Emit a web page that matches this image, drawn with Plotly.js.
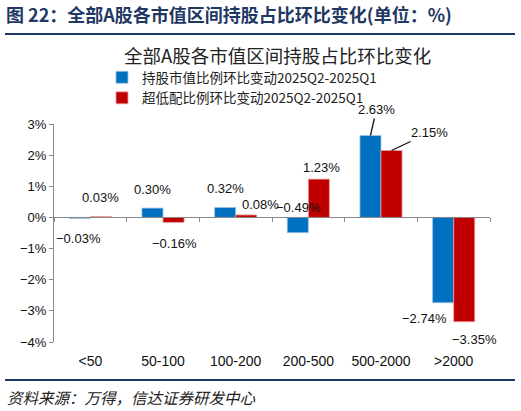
<!DOCTYPE html>
<html>
<head>
<meta charset="utf-8">
<script src="https://cdn.plot.ly/plotly-3.0.1.min.js"></script>
<style>
  html, body { margin: 0; padding: 0; background: #fff; }
  #chart { width: 521px; height: 411px; }
</style>
</head>
<body>
<div id="chart"></div>
<script>
// data
var categories = ['<50', '50-100', '100-200', '200-500', '500-2000', '>2000'];
var holdChange = [-0.03, 0.30, 0.32, -0.49, 2.63, -2.74];
var underChange = [0.03, -0.16, 0.08, 1.23, 2.15, -3.35];
var seriesNames = ['持股市值比例环比变动2025Q2-2025Q1', '超低配比例环比变动2025Q2-2025Q1'];
var yTicks = [-4, -3, -2, -1, 0, 1, 2, 3];

var headerText = '图 22：全部A股各市值区间持股占比环比变化(单位：%)';
var chartTitle = '全部A股各市值区间持股占比环比变化';
var sourceText = '资料来源：万得，信达证券研发中心';

// label nudges in px (dx right, dy up), just to follow the hand placed labels
var blueNudge = [[-1, -20], [0, 19], [0, 19], [1, 25], null, [-19, -16]];
var redNudge = [[0, 19], [1, -21], [14, 10], [3, 12], null, [10, -18]];
var blueArrow = [null, null, null, null, [6, -26], null];
var redArrow = [null, null, null, null, [38, -18], null];

var BLUE = '#0070C0', RED = '#C00000', NAVY = '#1F3864';
var W = 521, H = 411;
var margin = {l: 54, r: 31, t: 124, b: 69, autoexpand: false};
var bargap = 0.42;
var plotW = W - margin.l - margin.r;
var plotH = H - margin.t - margin.b;
var barShift = plotW / categories.length * (1 - bargap) / 4;

function py(pix) { return (H - margin.b - pix) / plotH; }
function px(pix) { return (pix - margin.l) / plotW; }
function fmt(v) { return (v < 0 ? '\u2212' : '') + Math.abs(v).toFixed(2) + '%'; }
function tickFmt(v) { return (v < 0 ? '\u2212' : '') + Math.abs(v) + '%'; }

var labelFont = {family: 'Liberation Sans, Arial, sans-serif', size: 13, color: '#111'};
var annotations = [];
function addLabels(vals, nudge, arrows, side) {
  vals.forEach(function (v, i) {
    var a = {x: categories[i], y: v, xref: 'x', yref: 'y', text: fmt(v), font: labelFont};
    if (arrows[i]) {
      a.showarrow = true; a.arrowhead = 0; a.arrowwidth = 1.3; a.arrowcolor = '#111';
      a.xshift = side * barShift; a.ax = arrows[i][0]; a.ay = arrows[i][1];
    } else {
      a.showarrow = false;
      a.xshift = side * barShift + nudge[i][0]; a.yshift = nudge[i][1];
    }
    annotations.push(a);
  });
}
addLabels(holdChange, blueNudge, blueArrow, -1);
addLabels(underChange, redNudge, redArrow, 1);

annotations.push({
  text: chartTitle, xref: 'paper', yref: 'paper', x: px(277), y: py(55),
  xanchor: 'center', yanchor: 'middle', showarrow: false,
  font: {family: 'Noto Sans CJK SC', size: 18.5, color: '#222'}
});
annotations.push({
  text: sourceText, xref: 'paper', yref: 'paper', x: px(5), y: py(397),
  xanchor: 'left', yanchor: 'middle', showarrow: false,
  font: {family: 'Noto Sans CJK SC', size: 15.5, color: '#222', style: 'italic'}
});

var shapes = [
  {type: 'line', xref: 'paper', yref: 'paper', x0: px(5), x1: px(515), y0: py(34), y1: py(34),
   line: {color: NAVY, width: 2}},
  {type: 'line', xref: 'paper', yref: 'paper', x0: px(5), x1: px(515), y0: py(380), y1: py(380),
   line: {color: NAVY, width: 2}}
];

var data = [
  {type: 'bar', x: categories, y: holdChange, name: seriesNames[0],
   marker: {color: BLUE, line: {color: '#9DC3E6', width: 0.8}}, hoverinfo: 'skip'},
  {type: 'bar', x: categories, y: underChange, name: seriesNames[1],
   marker: {color: RED, line: {color: '#F4A0A0', width: 0.8}}, hoverinfo: 'skip'}
];

var layout = {
  width: W, height: H, margin: margin,
  paper_bgcolor: '#fff', plot_bgcolor: '#fff',
  barmode: 'group', bargap: bargap, bargroupgap: 0,
  title: {
    text: '<b>' + headerText + '</b>', xref: 'container', yref: 'container',
    x: 6 / W, y: 1 - 16 / H, xanchor: 'left', yanchor: 'middle',
    font: {family: 'Noto Sans CJK SC', size: 18, color: NAVY}
  },
  showlegend: true,
  legend: {
    xref: 'paper', yref: 'paper', x: px(102), y: py(62),
    xanchor: 'left', yanchor: 'top', orientation: 'v', tracegroupgap: 0,
    itemwidth: 30, bgcolor: 'rgba(0,0,0,0)',
    font: {family: 'Noto Sans CJK SC', size: 13.5, color: '#222'}
  },
  xaxis: {
    type: 'category', categoryarray: categories, range: [-0.5, categories.length - 0.5],
    anchor: 'free', position: 4 / 7, automargin: false,
    showline: true, linecolor: '#888', linewidth: 1,
    ticks: 'outside', tickson: 'boundaries', ticklen: 4, tickcolor: '#888',
    showgrid: false, zeroline: false, tickangle: 0,
    ticklabelstandoff: 131,
    tickfont: {family: 'Liberation Sans, Arial, sans-serif', size: 14, color: '#111'}
  },
  yaxis: {
    range: [-4, 3], tickmode: 'array', tickvals: yTicks, ticktext: yTicks.map(tickFmt),
    automargin: false,
    showline: true, linecolor: '#888', linewidth: 1,
    ticks: 'outside', ticklen: 4, tickcolor: '#888',
    showgrid: false, zeroline: false,
    tickfont: {family: 'Liberation Sans, Arial, sans-serif', size: 13, color: '#111'}
  },
  annotations: annotations,
  shapes: shapes
};

Plotly.newPlot('chart', data, layout, {displayModeBar: false, staticPlot: true});
</script>
</body>
</html>
